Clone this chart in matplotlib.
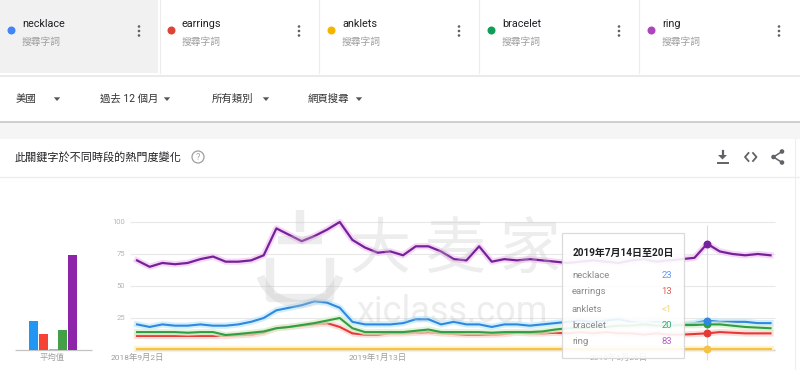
import numpy as np
import matplotlib as mpl
mpl.use('Agg')
import matplotlib.pyplot as plt
import matplotlib.patheffects as pe
from matplotlib.patches import Rectangle, Circle, Polygon, Arc

plt.rcParams['font.family'] = ['Roboto', 'Noto Sans CJK TC', 'DejaVu Sans']

# header / filter text
terms = ['necklace', 'earrings', 'anklets', 'bracelet', 'ring']
term_sub = '搜尋字詞'
filters = ['美國', '過去 12 個月', '所有類別', '網頁搜尋']
title = '此關鍵字於不同時段的熱門度變化'

dot_colors = ['#4285f4', '#db4437', '#f4b400', '#0f9d58', '#ab47bc']
line_colors = ['#2f87e0', '#e53935', '#f6c243', '#2f9e44', '#74229a']
glow_colors = ['#bfe9fb', '#fbd0cc', '#fdeec4', '#d8f0c8', '#f3c6f3']
bar_colors = ['#2196f3', '#f44336', '#f4b400', '#43a047', '#8e24aa']

# weekly interest, 2018-09-02 .. 2019-08-18
necklace = [20, 18, 20, 19, 19, 20, 19, 19, 20, 22, 25, 31, 33, 35, 38, 37, 33, 22,
            20, 20, 20, 21, 24, 24, 20, 22, 20, 20, 18, 20, 20, 19, 20, 21, 22,
            23, 22, 23, 24, 22, 21, 22, 21, 20, 21, 23, 22, 22, 22, 21, 21]
earrings = [11, 11, 11, 11, 11, 11, 11, 11, 11.5, 12, 13.5, 17, 18, 19, 20, 21, 18, 13,
            12, 12, 13, 13, 13.5, 14, 13, 12.5, 12, 12, 12, 12.5, 13.5, 13, 13, 13.5, 13,
            14, 13, 14, 13, 13, 12, 13, 12, 12, 12.5, 13, 14, 13.5, 13, 13, 13]
anklets = [0.5, 0.5, 0.5, 0.5, 0.5, 0.5, 0.5, 0.5, 0.5, 0.5, 0.5, 0.5, 0.5, 0.5, 0.5, 0.5, 0.5,
           0.5, 0.5, 0.5, 0.5, 0.5, 0.5, 0.5, 0.5, 0.5, 0.5, 0.5, 0.5, 0.5, 0.5, 0.5, 0.5, 0.5,
           0.5, 0.5, 0.5, 0.5, 0.5, 0.5, 0.5, 0.5, 0.5, 0.5, 0.5, 0.5, 0.5, 0.5, 0.5, 0.5, 0.5]
bracelet = [14, 14, 14, 14, 13.5, 14, 14, 11.7, 12.5, 13.5, 14.5, 17, 18, 19.5, 21, 23, 25, 17,
            14, 14, 14, 14, 15, 16, 14, 14, 14, 14, 13.5, 14, 14, 14, 14.5, 16, 17,
            17, 18, 18, 19, 19, 20, 19, 19, 19.5, 19.5, 20, 20, 19, 18, 17.5, 17]
ring = [70, 65, 68, 67, 68, 71, 73, 69, 69, 70, 74, 95, 90, 85, 89, 94, 100, 86,
        80, 76, 77, 74, 81, 81, 77, 71, 70, 81, 69, 71, 70, 71, 70, 69, 68,
        69, 70, 69, 68, 70, 71, 69, 70, 71, 72, 83, 77, 75, 74, 75, 74]
series = [necklace, earrings, anklets, bracelet, ring]

averages = [23, 12.5, 0.6, 15.6, 74]
avg_label = '平均值'

x_labels = ['2018年9月2日', '2019年1月13日', '2019年5月26日']
x_label_idx = [0, 19, 38]
y_ticks = [25, 50, 75, 100]

hover_idx = 45
tooltip_title = '2019年7月14日至20日'
tooltip_values = ['23', '13', '<1', '20', '83']

W, H = 800, 370
fig = plt.figure(figsize=(8, 3.7), dpi=100)
fig.patch.set_facecolor('white')


def px_axes(x0, y0, x1, y1, z=0):
    return fig.add_axes([x0 / W, 1 - y1 / H, (x1 - x0) / W, (y1 - y0) / H], zorder=z)


# ---- background / page chrome ----
bg = px_axes(0, 0, W, H)
bg.set_xlim(0, W)
bg.set_ylim(H, 0)
bg.axis('off')

bg.add_patch(Rectangle((0, 0), 158, 73, color='#f1f1f1', lw=0))
for xs in [160, 319, 479, 639]:
    bg.plot([xs, xs], [0, 73], color='#ececec', lw=0.8)
bg.plot([0, W], [75.5, 75.5], color='#e6e6e6', lw=1.2)

card_x = [0, 160, 320, 480, 640]
for i, t in enumerate(terms):
    x0 = card_x[i]
    bg.add_patch(Circle((x0 + 11.5, 30.5), 4, color=dot_colors[i], lw=0))
    bg.text(x0 + 22, 24, t, fontsize=7.8, color='#202124', va='center', ha='left')
    bg.text(x0 + 22, 41.5, term_sub, fontsize=7, color='#9e9e9e', va='center', ha='left')
    for dy in [-4.5, 0, 4.5]:
        bg.add_patch(Circle((x0 + 139, 31 + dy), 1.3, color='#616161', lw=0))

filter_x = [16, 100, 212, 308]
arrow_x = [57, 167, 266, 359]
for fx, ftxt, axx in zip(filter_x, filters, arrow_x):
    bg.text(fx, 99, ftxt, fontsize=7.5, color='#333333', va='center', ha='left')
    bg.add_patch(Polygon([(axx - 3.2, 97.3), (axx + 3.2, 97.3), (axx, 101)],
                         closed=True, color='#555555', lw=0))

bg.add_patch(Rectangle((0, 120.5), W, 2.2, color='#cfcfcf', lw=0))
bg.add_patch(Rectangle((0, 122.7), W, 16, color='#f5f5f5', lw=0))
bg.plot([0, W], [177, 177], color='#ececec', lw=0.9)
bg.plot([795, 795], [139, H], color='#eeeeee', lw=0.8)

bg.text(15, 157, title, fontsize=8, color='#202124', va='center', ha='left')
bg.add_patch(Circle((198, 157), 6, fill=False, ec='#9e9e9e', lw=0.9))
bg.text(198, 157.5, '?', fontsize=6.5, color='#9e9e9e', va='center', ha='center')

# download icon
icol = '#5f6368'
bg.plot([722.5, 722.5], [150.5, 156], color=icol, lw=1.6)
bg.add_patch(Polygon([(718, 155), (727, 155), (722.5, 159.5)], closed=True, color=icol, lw=0))
bg.plot([717.5, 727.5], [162.5, 162.5], color=icol, lw=1.4)
# embed icon
bg.plot([748.5, 745, 748.5], [153, 157, 161], color=icol, lw=1.3)
bg.plot([753, 756.5, 753], [153, 157, 161], color=icol, lw=1.3)
# share icon
pts = [(782, 151.5), (773.5, 157), (782, 162.5)]
bg.plot([pts[0][0], pts[1][0], pts[2][0]], [pts[0][1], pts[1][1], pts[2][1]], color=icol, lw=1.1)
for p in pts:
    bg.add_patch(Circle(p, 2.3, color=icol, lw=0))

# ---- main line chart ----
ax = px_axes(100, 200, 790, 368, z=1)
ax.patch.set_alpha(0)
sx = (770.5 - 137) / 50
ky = 1.28
ax.set_xlim(-(137 - 100) / sx, 50 + (790 - 770.5) / sx)
ax.set_ylim(-(368 - 350) / ky, 100 + (222 - 200) / ky)
ax.axis('off')

gx0, gx1 = (130 - 137) / sx, (775 - 137) / sx
ax.hlines(y_ticks, gx0, gx1, color='#e8e8e8', lw=0.8, zorder=0)
ax.hlines(0, (135 - 137) / sx, gx1, color='#c4c4c4', lw=0.9, zorder=0)
for v in y_ticks:
    ax.text((125 - 137) / sx, v, str(v), fontsize=5.5, color='#b5b5b5', ha='right', va='center')
for idx, lab in zip(x_label_idx, x_labels):
    ax.text(idx, -(357 - 350) / ky, lab, fontsize=6, color='#9e9e9e', ha='center', va='center')

ax.vlines(hover_idx, -(360 - 350) / ky, (350 - 225) / ky, color='#dcdcdc', lw=0.8, zorder=1)

x = np.arange(len(ring))
order = [2, 1, 3, 0, 4]
for i in order:
    ax.plot(x, series[i], color=line_colors[i], lw=1.6 if i == 4 else 1.5, zorder=3 + i,
            solid_joinstyle='round',
            path_effects=[pe.Stroke(linewidth=4.5, foreground=glow_colors[i], alpha=0.7), pe.Normal()])
for i in order:
    ax.scatter([hover_idx], [series[i][hover_idx]], s=22, color=line_colors[i],
               edgecolors=line_colors[i], zorder=10)

# ---- average bars ----
bx = px_axes(10, 200, 100, 368, z=1)
bx.patch.set_alpha(0)
bx.set_xlim(10, 100)
bx.set_ylim(-(368 - 350) / ky, 100 + (222 - 200) / ky)
bx.axis('off')
bar_pos = [33.8, 43.8, 53.1, 62.2, 72.2]
bx.bar(bar_pos, averages, width=9, color=bar_colors, zorder=2)
bx.hlines(0, 15, 92, color='#c4c4c4', lw=0.9, zorder=1)
bx.text(52.5, -(357 - 350) / ky, avg_label, fontsize=6, color='#9e9e9e', ha='center', va='center')

# ---- overlay: watermark + tooltip ----
top = px_axes(0, 0, W, H, z=5)
top.patch.set_alpha(0)
top.set_xlim(0, W)
top.set_ylim(H, 0)
top.axis('off')

wm = '#c4c4c4'
wa = 0.3
top.add_patch(Arc((300, 262), 84, 84, theta1=20, theta2=160, ec=wm, lw=6, alpha=wa))
top.plot([300, 300], [210, 232], color=wm, lw=6, alpha=wa, solid_capstyle='butt')
top.plot([278, 322], [240, 240], color=wm, lw=6, alpha=wa, solid_capstyle='butt')
top.plot([270, 270, 330, 330], [262, 298, 298, 262], color=wm, lw=6, alpha=wa)
top.text(455, 252, '大 麦 家', fontsize=44, color=wm, alpha=wa, ha='center', va='center',
         family=['Noto Sans CJK SC', 'DejaVu Sans'])
top.text(452, 312, 'xiclass.com', fontsize=26, color=wm, alpha=wa, ha='center', va='center')

top.add_patch(Rectangle((562, 233), 122, 125, facecolor='white', alpha=0.9,
                        edgecolor='#d6d6d6', lw=0.9))
top.text(573, 252.5, tooltip_title, fontsize=7.2, color='#202124', fontweight='bold',
         ha='left', va='center')
row_y = [275, 292, 309, 325.5, 342]
for i, t in enumerate(terms):
    top.text(572, row_y[i], t, fontsize=6.8, color='#8a8a8a', ha='left', va='center')
    top.text(672, row_y[i], tooltip_values[i], fontsize=6.8, color=dot_colors[i],
             ha='right', va='center', alpha=0.85 if i != 2 else 0.6)

plt.savefig('out.png', dpi=100)
